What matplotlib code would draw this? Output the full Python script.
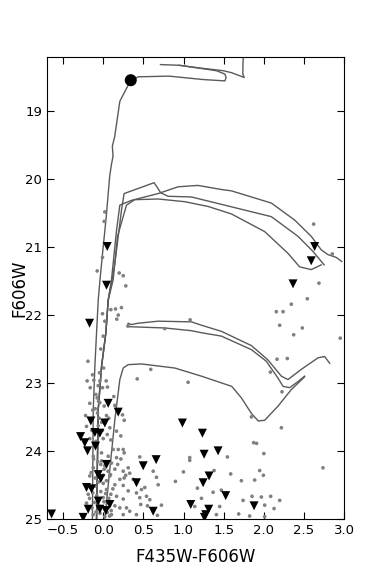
import matplotlib

matplotlib.use("Agg")
import matplotlib.pyplot as plt

# isochrones (color, mag), traced by eye
iso_top_x = [-0.135, -0.125, -0.124, -0.104, -0.083, -0.062, -0.04, -0.004, 0.038, 0.08, 0.101, 0.122,
             0.114, 0.143, 0.207, 0.343, 0.44, 0.82, 1.24, 1.515, 1.53, 1.515, 1.41, 0.945, 0.713]
iso_top_y = [25.0, 23.54, 23.39, 22.76, 22.26, 21.78, 21.48, 21.04, 20.55, 19.96, 19.79, 19.66,
             19.51, 19.37, 18.85, 18.54, 18.49, 18.48, 18.53, 18.55, 18.50, 18.45, 18.40, 18.32, 18.31]
iso_tail_x = [0.945, 1.2, 1.494, 1.60, 1.755, 1.738, 1.74, 1.745]
iso_tail_y = [18.32, 18.36, 18.40, 18.43, 18.50, 18.45, 18.30, 18.15]

ms_x = [-0.083, -0.062, -0.021, 0.033, 0.062]
ms_y = [25.0, 23.39, 22.76, 22.26, 21.78]

isoA_x = ms_x + [0.11, 0.145, 0.187, 0.228, 0.26, 0.634, 0.717, 0.808, 1.098, 1.51, 2.093, 2.425, 2.61, 2.715, 2.75]
isoA_y = ms_y + [21.48, 21.24, 20.84, 20.45, 20.21, 20.05, 20.20, 20.25, 20.26, 20.38, 20.55, 20.84, 21.06, 21.21, 21.26]
isoB_x = ms_x + [0.103, 0.166, 0.207, 0.352, 0.684, 0.933, 1.18, 1.471, 1.596, 2.093, 2.383, 2.59, 2.715, 2.80, 2.90, 2.97]
isoB_y = ms_y + [21.48, 20.75, 20.38, 20.31, 20.21, 20.11, 20.09, 20.15, 20.17, 20.35, 20.60, 20.84, 21.04, 21.11, 21.15, 21.21]
isoC_x = ms_x + [0.124, 0.178, 0.29, 0.393, 0.684, 1.016, 1.306, 1.596, 2.01, 2.30, 2.445, 2.59, 2.715]
isoC_y = ms_y + [21.48, 20.84, 20.38, 20.30, 20.29, 20.33, 20.40, 20.51, 20.77, 21.09, 21.29, 21.33, 21.26]

loop_up_x = [0.30, 0.31, 0.35, 0.435, 0.684, 1.098, 1.225, 1.472, 1.846, 2.05, 2.218, 2.30, 2.466, 2.674, 2.756, 2.82]
loop_up_y = [22.17, 22.12, 22.14, 22.12, 22.09, 22.10, 22.15, 22.24, 22.45, 22.66, 22.90, 22.95, 22.80, 22.63, 22.61, 22.71]
loop_lo_x = [0.30, 0.766, 1.098, 1.223, 1.472, 1.846, 2.03, 2.177, 2.239, 2.32, 2.425, 2.507]
loop_lo_y = [22.17, 22.19, 22.23, 22.26, 22.31, 22.51, 22.68, 22.93, 23.05, 23.07, 22.98, 22.90]

isoE_x = [0.02, 0.145, 0.207, 0.249, 0.311, 0.476, 0.891, 1.223, 1.6, 1.72, 1.846, 1.93, 2.01, 2.177, 2.34, 2.507]
isoE_y = [25.0, 23.54, 22.95, 22.78, 22.73, 22.72, 22.78, 22.90, 23.05, 23.22, 23.45, 23.56, 23.55, 23.34, 23.10, 22.91]

# field stars (gray)
dot_x = [0.02, 0.012, -0.009, -0.075, 0.199, 0.249, 0.281, -0.009, 0.02, 0.095, 0.153, 0.227, 0.187, 0.169,
         1.082, 0.766, 0.31, 0.0, -0.03, 0.004, -0.19, -0.133, -0.046, -0.2, -0.117, -0.042, 0.037, 0.592,
         0.423, 1.057, -0.162, -0.062, -0.009, 0.053, -0.092, -0.075, 0.132, -0.058,
         -0.22, -0.071, 0.012, -0.042, -0.167, 0.145, 0.24, 0.261, 0.041, -0.208, -0.062, 0.082, 0.166,
         0.219, -0.167, 0.0, 0.095, 0.187, 0.124, 0.249, 0.261, -0.021, -0.124, 0.062, 0.166, 0.455,
         -0.021, 0.103, 0.145, 0.249, 0.311, 0.33, -0.124, 0.012, -0.167, 0.082, 0.207, 0.261, 0.373,
         0.0, 0.145, 0.249, -0.104, 0.041, 0.311, 0.414, 0.476, 0.095, 0.166, 0.249, 0.455, -0.187,
         0.0, 0.145, 0.207, 0.29, 0.33, 0.725, 0.414, 0.249, 0.103, 0.675, -0.124, -0.208, 0.899,
         0.622, 0.663, 0.684, 0.518, 0.539, 0.58, 0.467, 0.551,
         -0.13, -0.1, -0.05, -0.02, 0.03, 0.07, -0.14, -0.09, -0.01, 0.05, -0.12, -0.07, -0.03, 0.02,
         0.06, -0.15, -0.1, -0.06, 0.0, 0.04, 0.09, -0.13, -0.08, -0.03, 0.03, 0.12, -0.11, -0.05,
         0.01, 0.07, -0.17, -0.09, -0.04, 0.05, 0.1, -0.14, -0.06, 0.02, 0.08, 0.18, 0.22, 0.28,
         1.845, 2.218, 1.873, 1.91, 2.0, 1.546, 1.077, 1.077, 2.736, 0.999, 1.38, 1.948, 1.994, 1.587,
         1.72, 1.886, 1.173, 1.368, 1.471, 1.223, 1.741, 1.853, 1.969, 2.085, 2.197, 1.14, 1.45,
         2.01, 2.127, 1.409, 1.687, 1.823, 2.01, 2.226,
         2.686, 2.541, 2.342, 2.155, 2.239, 2.197, 2.479, 2.371, 2.951, 2.164, 2.292, 2.081,
         2.62, 2.852]
dot_y = [20.48, 20.62, 21.15, 21.35, 21.38, 21.42, 21.57, 21.98, 22.09, 21.92, 21.91, 21.89, 22.0, 22.06,
         22.07, 22.2, 22.16, 22.31, 22.5, 22.78, 22.68, 22.88, 22.85, 22.97, 22.96, 22.97, 22.97, 22.80,
         22.94, 22.99, 23.07, 23.04, 23.07, 23.06, 23.17, 23.22, 23.20, 23.27,
         23.48, 23.44, 23.34, 23.29, 23.30, 23.33, 23.47, 23.55, 23.48, 23.64, 23.63, 23.66, 23.71,
         23.78, 23.82, 23.82, 23.84, 23.98, 23.98, 23.98, 24.03, 24.03, 24.08, 24.08, 24.10, 24.09,
         24.15, 24.18, 24.27, 24.30, 24.25, 24.33, 24.25, 24.27, 24.37, 24.37, 24.42, 24.40, 24.42,
         24.48, 24.50, 24.51, 24.52, 24.57, 24.59, 24.62, 24.57, 24.64, 24.67, 24.71, 24.69, 24.64,
         24.69, 24.81, 24.84, 24.84, 24.89, 24.80, 24.94, 24.94, 24.94, 24.95, 24.94, 24.77, 24.45,
         24.30, 24.39, 24.50, 24.54, 24.67, 24.72, 24.79, 24.81,
         23.40, 23.38, 23.52, 23.58, 23.55, 23.52, 23.70, 23.86, 23.70, 23.76, 24.12, 24.16, 24.20, 24.22,
         24.30, 24.32, 24.40, 24.46, 24.36, 24.44, 24.35, 24.62, 24.66, 24.60, 24.63, 24.56, 24.76, 24.72,
         24.75, 24.70, 24.70, 24.90, 24.92, 24.91, 24.88, 24.84, 24.80, 24.97, 24.96, 24.20, 24.12, 24.36,
         23.5, 23.66, 23.88, 23.89, 24.04, 24.09, 24.10, 24.14, 24.25, 24.31, 24.29, 24.29, 24.36, 24.34,
         24.44, 24.43, 24.55, 24.61, 24.58, 24.70, 24.73, 24.67, 24.68, 24.67, 24.73, 24.82, 24.82,
         24.80, 24.85, 24.94, 24.93, 24.96, 24.97, 23.13,
         21.53, 21.76, 21.84, 21.95, 21.95, 22.15, 22.19, 22.29, 22.34, 22.65, 22.64, 22.84,
         20.66, 21.10]

# candidates (black triangles)
tri_x = [0.05, 0.041, -0.17, 2.632, 2.59, 2.363, 0.062, 0.187, -0.154, 0.02, -0.282, -0.104, -0.042,
         -0.229, -0.195, -0.096, 0.041, 0.498, 0.659, -0.062, -0.03, -0.208, -0.146, 0.414, -0.062,
         0.082, -0.187, -0.042, 0.622, 0.033, -0.643, -0.25, 0.986, 1.235, 1.43, 1.256, 1.318, 1.244,
         1.525, 1.09, 1.878, 1.313, 1.276, 1.26]
tri_y = [20.99, 21.56, 22.12, 20.99, 21.20, 21.54, 23.30, 23.43, 23.56, 23.59, 23.79, 23.73, 23.74,
         23.88, 24.0, 23.93, 24.2, 24.22, 24.13, 24.35, 24.41, 24.54, 24.56, 24.47, 24.74,
         24.79, 24.86, 24.86, 24.89, 24.88, 24.93, 24.98, 23.59, 23.74, 24.0, 24.05, 24.37, 24.47,
         24.66, 24.79, 24.81, 24.86, 24.94, 24.98]

star_x = [0.343]
star_y = [18.54]

fig = plt.figure(figsize=(3.82, 5.77), dpi=100)
ax = fig.add_axes([0.123, 0.101, 0.778, 0.8])

lc = "#5a5a5a"
for xs, ys in [(iso_top_x, iso_top_y), (iso_tail_x, iso_tail_y), (isoA_x, isoA_y), (isoB_x, isoB_y),
               (isoC_x, isoC_y), (loop_up_x, loop_up_y), (loop_lo_x, loop_lo_y), (isoE_x, isoE_y)]:
    ax.plot(xs, ys, color=lc, lw=1.0, zorder=2)

ax.scatter(dot_x, dot_y, s=7, c="#808080", edgecolors="none", zorder=3)
ax.scatter(tri_x, tri_y, s=42, marker="v", c="black", edgecolors="none", zorder=4)
ax.scatter(star_x, star_y, s=75, c="black", edgecolors="none", zorder=5)

ax.set_xlim(-0.7, 3.0)
ax.set_ylim(25, 18.2)
ax.set_xticks([-0.5, 0.0, 0.5, 1.0, 1.5, 2.0, 2.5, 3.0])
ax.set_yticks([19, 20, 21, 22, 23, 24, 25])
ax.tick_params(direction="in", top=True, right=True, length=5, labelsize=9.5)
ax.set_xlabel("F435W-F606W", fontsize=12, labelpad=8)
ax.set_ylabel("F606W", fontsize=12, labelpad=-2)

fig.savefig("out.png", dpi=100)
